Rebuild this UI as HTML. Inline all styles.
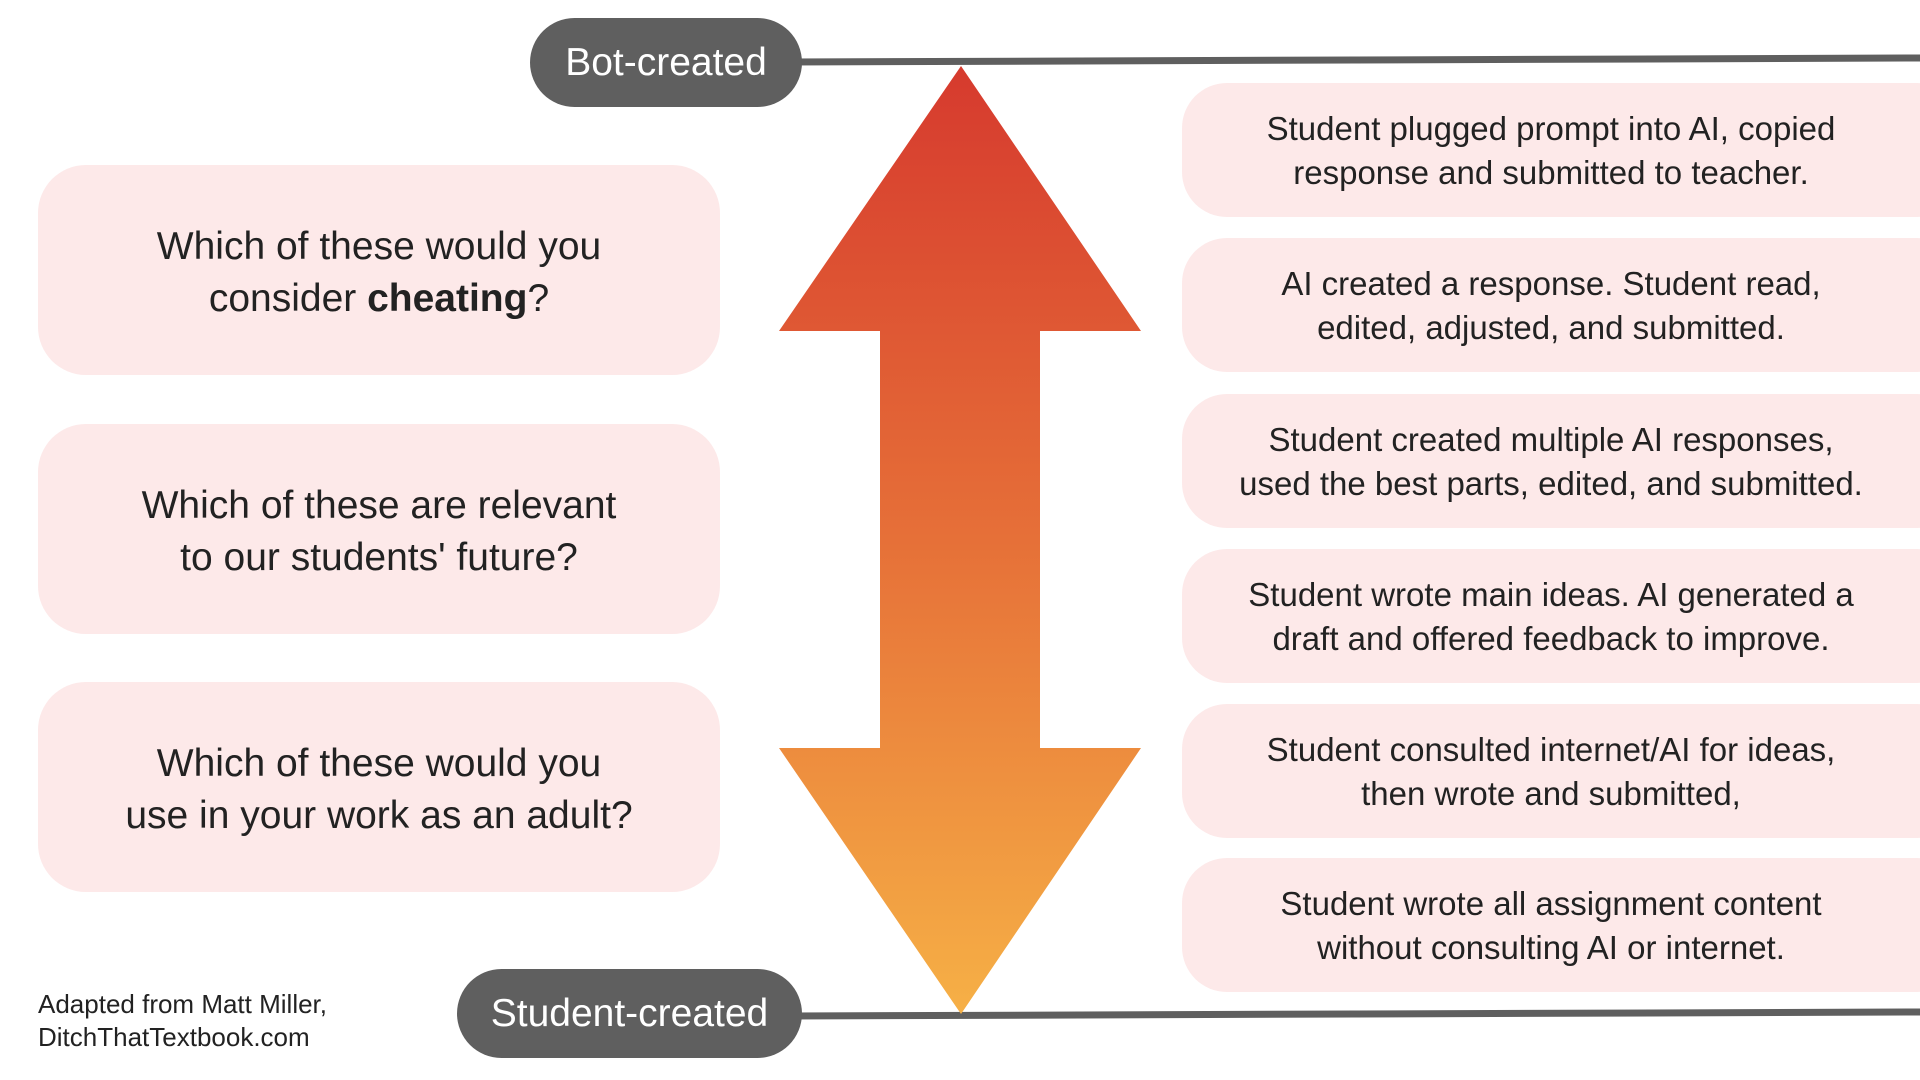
<!DOCTYPE html>
<html><head><meta charset="utf-8"><style>
body{margin:0;width:1920px;height:1080px;background:#fff;position:relative;overflow:hidden;font-family:"Liberation Sans",sans-serif;color:#222}
.pill{position:absolute;background:#5f5f5f;color:#fff;border-radius:45px;display:flex;align-items:center;justify-content:center;font-size:39px}
.lb{position:absolute;left:38px;width:682px;height:210px;background:#fde9e9;border-radius:48px;display:flex;align-items:center;justify-content:center;text-align:center;font-size:39px;line-height:52px}
.lb span{display:block;width:682px;padding-top:6px}
.rb{position:absolute;left:1182px;width:780px;height:134px;background:#fde9e9;border-radius:45px;display:flex;align-items:center;text-align:center;font-size:33px;line-height:44px}
.rb span{display:block;width:738px;padding-top:2px}
.cr{position:absolute;left:38px;top:988px;font-size:26px;line-height:33px}
</style></head><body>
<svg width="1920" height="1080" style="position:absolute;left:0;top:0">
<defs><linearGradient id="g" x1="0" y1="0" x2="0" y2="1"><stop offset="0" stop-color="#d63a2e"/><stop offset="0.5" stop-color="#e67038"/><stop offset="1" stop-color="#f6b046"/></linearGradient></defs>
<line x1="790" y1="62" x2="1920" y2="58" stroke="#5f5f5f" stroke-width="7"/>
<line x1="790" y1="1016" x2="1920" y2="1012" stroke="#5f5f5f" stroke-width="7"/>
<polygon points="961,66 1141,331 1040,331 1040,748 1141,748 961,1014 779,748 880,748 880,331 779,331" fill="url(#g)"/>
</svg>
<div class="pill" style="left:530px;top:18px;width:272px;height:89px">Bot-created</div>
<div class="pill" style="left:457px;top:969px;width:345px;height:89px">Student-created</div>
<div class="lb" style="top:165px"><span>Which of these would you<br>consider <b>cheating</b>?</span></div>
<div class="lb" style="top:424px"><span>Which of these are relevant<br>to our students' future?</span></div>
<div class="lb" style="top:682px"><span>Which of these would you<br>use in your work as an adult?</span></div>
<div class="rb" style="top:83px"><span>Student plugged prompt into AI, copied<br>response and submitted to teacher.</span></div>
<div class="rb" style="top:238px"><span>AI created a response. Student read,<br>edited, adjusted, and submitted.</span></div>
<div class="rb" style="top:394px"><span>Student created multiple AI responses,<br>used the best parts, edited, and submitted.</span></div>
<div class="rb" style="top:549px"><span>Student wrote main ideas. AI generated a<br>draft and offered feedback to improve.</span></div>
<div class="rb" style="top:704px"><span>Student consulted internet/AI for ideas,<br>then wrote and submitted,</span></div>
<div class="rb" style="top:858px"><span>Student wrote all assignment content<br>without consulting AI or internet.</span></div>
<div class="cr">Adapted from Matt Miller,<br>DitchThatTextbook.com</div>
</body></html>
